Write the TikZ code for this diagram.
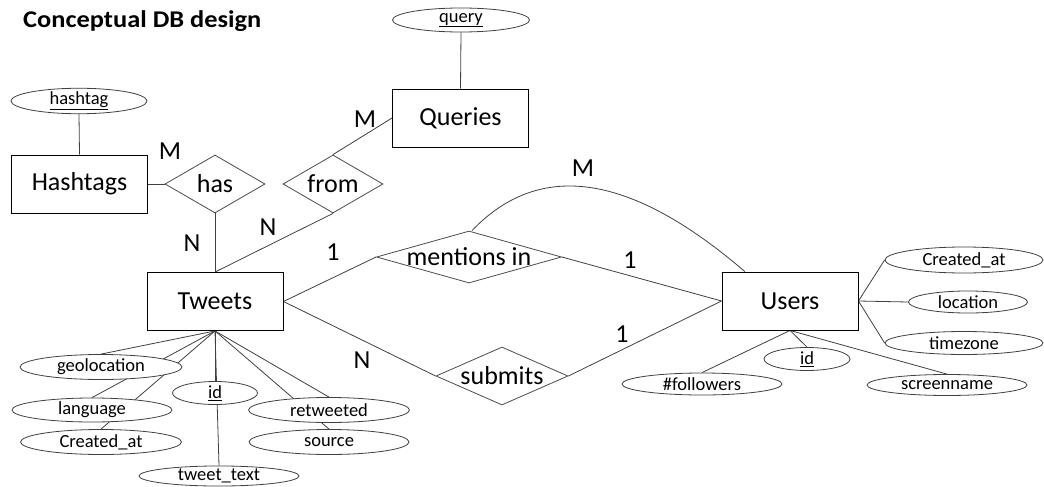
\documentclass[tikz,border=0pt]{standalone}
\usepackage{fontspec}
\setmainfont{Carlito}
\usetikzlibrary{shapes.geometric,backgrounds,calc}
\newcommand{\bigtxt}{\fontsize{26}{31}\selectfont}
\newcommand{\smalltxt}{\fontsize{18.5}{22}\selectfont}
\begin{document}
\begin{tikzpicture}[x=1pt,y=-1pt,
  entity/.style={draw=black,line width=0.9pt,fill=white,rectangle,inner sep=0pt,minimum width=136pt,minimum height=58pt,font=\bigtxt},
  relbox/.style={draw=black!70,line width=0.8pt,fill=white,diamond,inner sep=0pt,font=\bigtxt},
  attr/.style={draw=black!75,line width=0.8pt,fill=white,ellipse,inner sep=0pt,font=\smalltxt},
  card/.style={font=\bigtxt,anchor=base,inner sep=0pt},
  conn/.style={draw=black!75,line width=0.8pt}]
\useasboundingbox (0,0) rectangle (1044,487);
\node[anchor=base west,inner sep=0pt,font=\fontsize{24}{28}\selectfont\bfseries] (title) at (23,27.5) {\scalebox{1.1}[1]{Conceptual DB design}};
% entities
\node[entity] (hashtags) at (79.5,184) {Hashtags};
\node[entity] (queries) at (460.5,118) {Queries};
\node[entity] (tweets) at (215,301.5) {Tweets};
\node[entity] (users) at (790,301) {Users};
% relationships
\node[relbox,minimum width=100pt,minimum height=58pt] (has) at (215,184) {\makebox[0pt]{has}};
\node[relbox,minimum width=100pt,minimum height=58pt] (from) at (333,184) {\makebox[0pt]{from}};
\node[relbox,minimum width=185pt,minimum height=52pt] (mentions) at (469,257) {\makebox[0pt]{mentions in}};
\node[relbox,minimum width=132pt,minimum height=58pt] (submits) at (502,376) {\makebox[0pt]{submits}};
% attributes
\node[attr,minimum width=136pt,minimum height=24pt] (hashtag) at (79,101) {\underline{hashtag}};
\node[attr,minimum width=137pt,minimum height=24pt] (query) at (461,20) {\underline{query}};
\node[attr,minimum width=162pt,minimum height=25pt] (geo) at (101,367) {geolocation};
\node[attr,minimum width=160pt,minimum height=24pt] (lang) at (92,410) {language};
\node[attr,minimum width=161pt,minimum height=25pt] (tcreated) at (101,442) {Created\_at};
\node[attr,minimum width=85pt,minimum height=23pt] (tid) at (215,393) {\underline{id}};
\node[attr,minimum width=160pt,minimum height=20pt] (ttext) at (219,476) {tweet\_text};
\node[attr,minimum width=161pt,minimum height=25pt] (retw) at (329,410) {retweeted};
\node[attr,minimum width=160pt,minimum height=25pt] (source) at (329,442) {source};
\node[attr,minimum width=158pt,minimum height=26pt] (ucreated) at (964,260) {Created\_at};
\node[attr,minimum width=119pt,minimum height=22pt] (loc) at (968,302) {location};
\node[attr,minimum width=158pt,minimum height=23pt] (tz) at (964,343) {timezone};
\node[attr,minimum width=160pt,minimum height=22pt] (foll) at (702,384) {\#followers};
\node[attr,minimum width=86pt,minimum height=23pt] (uid) at (807,359) {\underline{id}};
\node[attr,minimum width=160pt,minimum height=21pt] (sname) at (947,385) {screenname};
% cardinalities
\node[card] (c1) at (365,127) {M};
\node[card] (c2) at (170,159) {M};
\node[card] (c3) at (192,251) {N};
\node[card] (c4) at (268,235) {N};
\node[card] (c5) at (333,260) {1};
\node[card] (c6) at (630,268) {1};
\node[card] (c7) at (583,176) {M};
\node[card] (c8) at (362,368) {N};
\node[card] (c9) at (622,342) {1};
\coordinate (utop) at ($(users.north west)!0.17!(users.north east)$);
\begin{scope}[on background layer]
\draw[conn] (hashtags.north) -- (hashtag.south);
\draw[conn] (queries.north) -- (query.south);
\draw[conn] (hashtags.east) -- (has.west);
\draw[conn] (has.south) -- (tweets.north);
\draw[conn] (from.south) -- (tweets.north);
\draw[conn] (from.north) -- (queries.west);
\draw[conn] (tweets.east) -- (mentions.west);
\draw[conn] (mentions.east) -- (users.west);
\draw[conn] (tweets.east) -- (submits.west);
\draw[conn] (submits.east) -- (users.west);
\draw[conn] ($(mentions.north)+(3,0)$) .. controls (530,170) and (615,160) .. (utop);
\draw[conn] (tweets.south) -- (geo.north);
\draw[conn] (tweets.south) -- (lang.north);
\draw[conn] (tweets.south) -- (tcreated.north);
\draw[conn] (tweets.south) -- (tid.north);
\draw[conn] (tweets.south) -- (ttext.north);
\draw[conn] (tweets.south) -- (retw.north);
\draw[conn] (tweets.south) -- (source.north);
\draw[conn] (users.east) -- (ucreated.west);
\draw[conn] (users.east) -- (loc.west);
\draw[conn] (users.east) -- (tz.west);
\draw[conn] (users.south) -- (foll.north);
\draw[conn] (users.south) -- (uid.north);
\draw[conn] (users.south) -- (sname.north);
\end{scope}
\end{tikzpicture}
\end{document}
